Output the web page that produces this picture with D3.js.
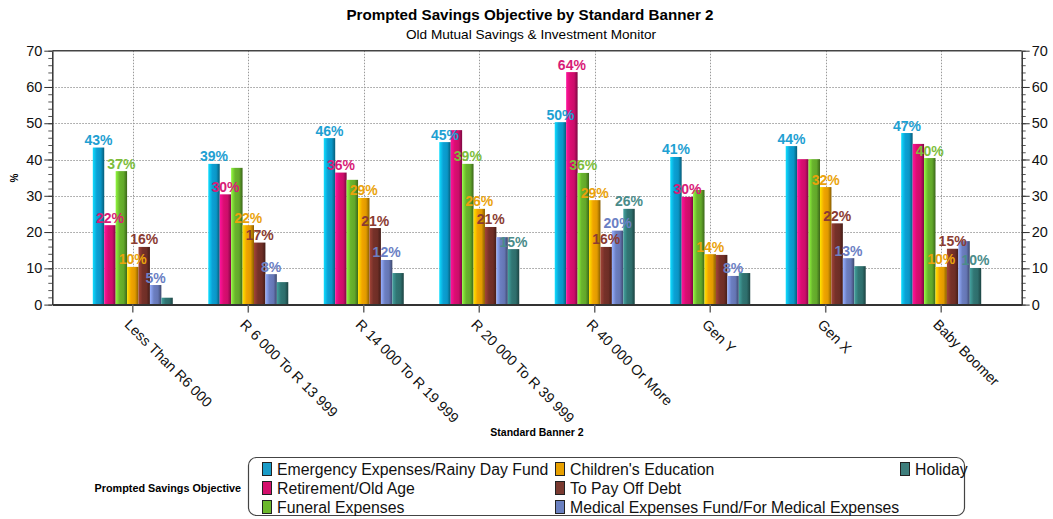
<!DOCTYPE html>
<html>
<head>
<meta charset="utf-8">
<script src="https://cdn.jsdelivr.net/npm/d3@7"></script>
<style>
  html, body { margin: 0; padding: 0; background: #fff; }
  svg { display: block; font-family: "Liberation Sans", Arial, sans-serif; }
</style>
</head>
<body>
<svg id="chart" width="1053" height="519"></svg>
<script>
// Categories (Standard Banner 2)
const categories = [
  "Less Than R6 000", "R 6 000 To R 13 999", "R 14 000 To R 19 999",
  "R 20 000 To R 39 999", "R 40 000 Or More", "Gen Y", "Gen X", "Baby Boomer"
];

// Series names (Prompted Savings Objective)
const seriesNames = [
  "Emergency Expenses/Rainy Day Fund", "Retirement/Old Age", "Funeral Expenses",
  "Children's Education", "To Pay Off Debt",
  "Medical Expenses Fund/For Medical Expenses", "Holiday"
];

// Percentages per category, one array per series
const emergency  = [43.3, 38.8, 45.9, 44.8, 50.3, 40.7, 43.7, 47.3];
const retirement = [21.9, 30.4, 36.4, 48.1, 64.1, 29.7, 40.1, 44.3];
const funeral    = [36.8, 37.7, 34.4, 38.8, 36.3, 31.6, 40.1, 40.4];
const education  = [10.4, 21.9, 29.4, 26.4, 28.8, 13.9, 32.4, 10.4];
const debt       = [15.9, 17.1, 21.1, 21.4, 15.9, 13.7, 22.4, 15.4];
const medical    = [5.4, 8.4, 12.3, 18.6, 20.4, 7.9, 12.8, 17.5];
const holiday    = [1.9, 6.2, 8.7, 15.3, 26.4, 8.7, 10.6, 10.1];

const yTickValues  = [0, 10, 20, 30, 40, 50, 60, 70];
const yMinorValues = d3.range(0, 71, 2);

const seriesValues = [emergency, retirement, funeral, education, debt, medical, holiday];

const barColors   = ["#0a96c6", "#cc0d6a", "#62a82a", "#e09a00", "#6e2e26", "#6576b4", "#2e6e6c"];
const labelColors = ["#1ea0d2", "#d81b78", "#7dbd3c", "#eaa30c", "#8a3c32", "#6b80c4", "#4a8c8a"];
const swatchColors = ["#1a9cc8", "#d4106c", "#6cb82c", "#e8a000", "#7a3a30", "#6a80c0", "#3e7e7c"];

const svg = d3.select("#chart");

const plot = { left: 52.3, right: 1021.7, top: 50.7, bottom: 304.6 };

// Scales
const x0 = d3.scaleBand()
  .domain(categories)
  .range([plot.left, plot.right])
  .paddingInner(0)
  .paddingOuter(0.197);

const x1 = d3.scaleBand()
  .domain(d3.range(seriesNames.length))
  .range([0, x0.bandwidth()])
  .paddingInner(0)
  .paddingOuter(1.553);

const y = d3.scaleLinear().domain([0, 70]).range([plot.bottom, plot.top]);

// Gradients giving the bars a rounded, lit look
const defs = svg.append("defs");
barColors.forEach((c, i) => {
  const g = defs.append("linearGradient")
    .attr("id", "bar-grad-" + i)
    .attr("x1", "0%").attr("x2", "100%").attr("y1", "0%").attr("y2", "0%");
  const base = d3.color(c);
  g.append("stop").attr("offset", "0%").attr("stop-color", base.brighter(1.1).formatHex());
  g.append("stop").attr("offset", "35%").attr("stop-color", base.brighter(0.2).formatHex());
  g.append("stop").attr("offset", "70%").attr("stop-color", base.formatHex());
  g.append("stop").attr("offset", "100%").attr("stop-color", base.darker(1.4).formatHex());
});

// Titles
svg.append("text")
  .attr("x", 530).attr("y", 20)
  .attr("text-anchor", "middle")
  .attr("font-size", 15.2).attr("font-weight", "bold")
  .text("Prompted Savings Objective by Standard Banner 2");

svg.append("text")
  .attr("x", 531).attr("y", 39)
  .attr("text-anchor", "middle")
  .attr("font-size", 13.6)
  .text("Old Mutual Savings & Investment Monitor");

// Gridlines
const grid = svg.append("g").attr("stroke", "#9a9a9a").attr("stroke-width", 1).attr("stroke-dasharray", "1.5,1.5");
grid.selectAll("line.h")
  .data(yTickValues.filter(v => v > 0 && v < 70))
  .join("line")
  .attr("x1", plot.left).attr("x2", plot.right)
  .attr("y1", d => Math.round(y(d)) + 0.5).attr("y2", d => Math.round(y(d)) + 0.5);
grid.selectAll("line.v")
  .data(categories)
  .join("line")
  .attr("x1", d => Math.round(x0(d) + x0.bandwidth() / 2) + 0.5)
  .attr("x2", d => Math.round(x0(d) + x0.bandwidth() / 2) + 0.5)
  .attr("y1", plot.top).attr("y2", plot.bottom);

// Bars
const groups = svg.append("g").selectAll("g")
  .data(categories)
  .join("g")
  .attr("transform", d => `translate(${x0(d)},0)`);

groups.selectAll("rect")
  .data((d, ci) => seriesValues.map((vals, si) => ({ si, ci, v: vals[ci] })))
  .join("rect")
  .attr("x", d => x1(d.si))
  .attr("width", x1.bandwidth())
  .attr("y", d => y(d.v))
  .attr("height", d => y(0) - y(d.v))
  .attr("fill", d => `url(#bar-grad-${d.si})`);

// Frame: top border
svg.append("line")
  .attr("x1", plot.left).attr("x2", plot.right)
  .attr("y1", plot.top).attr("y2", plot.top)
  .attr("stroke", "#444").attr("stroke-width", 1.5);

// Y axes (major and minor ticks, both sides)
function styleAxis(g) {
  g.select(".domain").attr("stroke", "#333").attr("stroke-width", 1.5);
  g.selectAll(".tick line").attr("stroke", "#333");
  g.selectAll(".tick text").attr("font-size", 14.5).attr("fill", "#111")
    .attr("font-family", '"Liberation Sans", Arial, sans-serif');
}

svg.append("g")
  .attr("transform", `translate(${plot.left},0)`)
  .call(d3.axisLeft(y).tickValues(yMinorValues).tickSize(4).tickFormat(""))
  .call(g => { g.select(".domain").remove(); g.selectAll(".tick line").attr("stroke", "#555"); });

svg.append("g")
  .attr("transform", `translate(${plot.right},0)`)
  .call(d3.axisRight(y).tickValues(yMinorValues).tickSize(4).tickFormat(""))
  .call(g => { g.select(".domain").remove(); g.selectAll(".tick line").attr("stroke", "#555"); });

svg.append("g")
  .attr("transform", `translate(${plot.left},0)`)
  .call(d3.axisLeft(y).tickValues(yTickValues).tickSize(8).tickSizeOuter(0).tickPadding(2))
  .call(styleAxis);

svg.append("g")
  .attr("transform", `translate(${plot.right},0)`)
  .call(d3.axisRight(y).tickValues(yTickValues).tickSize(8).tickSizeOuter(0).tickPadding(2))
  .call(styleAxis);

// X axis
const xAxis = svg.append("g")
  .attr("transform", `translate(0,${plot.bottom})`)
  .call(d3.axisBottom(x0).tickSize(8).tickSizeOuter(0));
xAxis.select(".domain").attr("stroke", "#333").attr("stroke-width", 2);
xAxis.selectAll(".tick line").attr("stroke", "#666").attr("stroke-width", 1.5);
xAxis.selectAll(".tick text")
  .attr("font-size", 14.3).attr("fill", "#111")
  .attr("font-family", '"Liberation Sans", Arial, sans-serif')
  .attr("text-anchor", "start")
  .attr("dy", null)
  .attr("y", 0)
  .attr("transform", "translate(-9,21) rotate(45)");

// Axis titles
svg.append("text")
  .attr("transform", "translate(18,178) rotate(-90)")
  .attr("text-anchor", "middle")
  .attr("font-size", 10).attr("font-weight", "bold")
  .text("%");

svg.append("text")
  .attr("x", (plot.left + plot.right) / 2).attr("y", 436)
  .attr("text-anchor", "middle")
  .attr("font-size", 10.5).attr("font-weight", "bold")
  .text("Standard Banner 2");

// Value labels: placed in series order, skipping any that would collide with one already placed
const labelLayer = svg.append("g");
const placed = [];
const labelH = 15;
categories.forEach((cat, ci) => {
  seriesValues.forEach((vals, si) => {
    const v = vals[ci];
    const cx = x0(cat) + x1(si) + x1.bandwidth() / 2;
    const top = y(v);
    const t = labelLayer.append("text")
      .attr("x", cx).attr("y", top - 2.5)
      .attr("text-anchor", "middle")
      .attr("font-size", 14).attr("font-weight", "bold")
      .attr("fill", labelColors[si])
      .text(Math.round(v) + "%");
    const w = t.node().getComputedTextLength();
    const box = { x0: cx - w / 2, x1: cx + w / 2, y0: top - labelH, y1: top };
    const hit = placed.some(b => box.x0 < b.x1 && box.x1 > b.x0 && box.y0 < b.y1 && box.y1 > b.y0);
    if (hit) t.remove(); else placed.push(box);
  });
});

// Legend
svg.append("text")
  .attr("x", 241).attr("y", 492)
  .attr("text-anchor", "end")
  .attr("font-size", 10.8).attr("font-weight", "bold")
  .text("Prompted Savings Objective");

svg.append("rect")
  .attr("x", 248.5).attr("y", 457.5)
  .attr("width", 716).attr("height", 58)
  .attr("rx", 8).attr("ry", 8)
  .attr("fill", "#fff").attr("stroke", "#444").attr("stroke-width", 1.2);

const legendCols = [262.5, 555.5, 900.5];
const legendRows = [469, 488, 507];
const legend = svg.append("g").selectAll("g")
  .data(seriesNames)
  .join("g")
  .attr("transform", (d, i) => `translate(${legendCols[Math.floor(i / 3)]},${legendRows[i % 3]})`);

legend.append("rect")
  .attr("x", 0).attr("y", -6.5)
  .attr("width", 9).attr("height", 13)
  .attr("fill", (d, i) => swatchColors[i])
  .attr("stroke", "#222").attr("stroke-width", 1);

legend.append("text")
  .attr("x", 14.5).attr("y", 6)
  .attr("font-size", 15.8)
  .attr("fill", "#111")
  .text(d => d);
</script>
</body>
</html>
